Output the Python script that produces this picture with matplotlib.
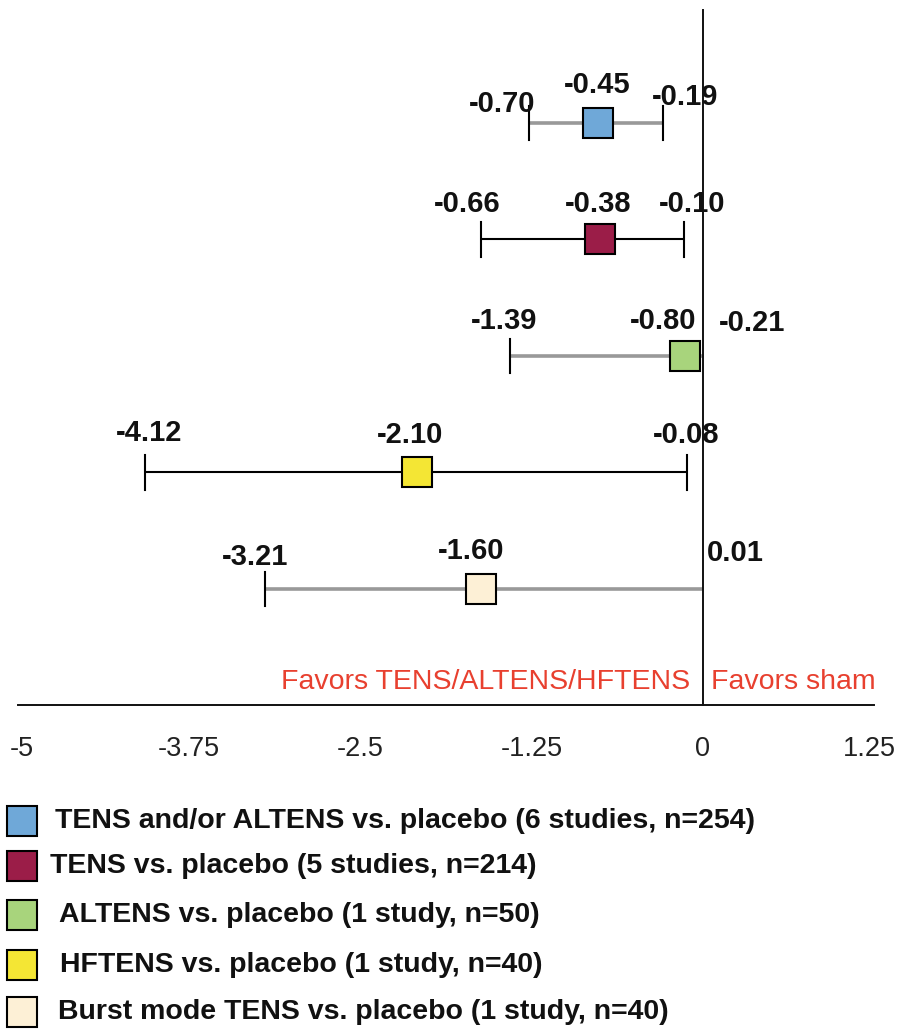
import matplotlib.pyplot as plt
import matplotlib.transforms as mtransforms

# forest plot data (positions as drawn in the figure)
rows = [0, 1, 2, 3, 4]
est = [-0.77, -0.75, -0.13, -2.09, -1.62]
lo = [-1.27, -1.62, -1.41, -4.07, -3.20]
hi = [-0.29, -0.14, 0.0, -0.12, 0.0]
lo_text = ['-0.70', '-0.66', '-1.39', '-4.12', '-3.21']
est_text = ['-0.45', '-0.38', '-0.80', '-2.10', '-1.60']
hi_text = ['-0.19', '-0.10', '-0.21', '-0.08', '0.01']
colors = ['#6fa8d8', '#9b1d48', '#a8d47c', '#f4e634', '#fdf0d6']
legend_labels = ['TENS and/or ALTENS vs. placebo (6 studies, n=254)',
                 'TENS vs. placebo (5 studies, n=214)',
                 'ALTENS vs. placebo (1 study, n=50)',
                 'HFTENS vs. placebo (1 study, n=40)',
                 'Burst mode TENS vs. placebo (1 study, n=40)']
xticks = [-5, -3.75, -2.5, -1.25, 0, 1.25]
xtick_labels = ['-5', '-3.75', '-2.5', '-1.25', '0', '1.25']

# styling
line_col = ['#999999', 'black', '#999999', 'black', '#999999']
line_w = [2.6, 1.5, 2.6, 1.5, 2.6]
right_cap = [True, True, False, True, False]
# label offsets in pixels (dx, dy)
lo_off = [(-27, 19), (-14, 35), (-6, 35), (4, 39), (-10, 32)]
est_off = [(0, 38), (-2, 35), (-22, 35), (-7, 37), (-10, 38)]
hi_off = [(22, 26), (8, 35), (49, 33), (0, 37), (32, 36)]

plt.rcParams['font.family'] = ['Liberation Sans', 'DejaVu Sans']

W, H = 899, 1029
fig = plt.figure(figsize=(W / 100, H / 100), dpi=100)
ax = fig.add_axes([0, 0, 1, 1])

x0, sx = 703, 137.0     # pixel of x=0, pixels per unit
y0, sy = 123, 116.5     # pixel of row 0, pixels per row
ax.set_xlim((0 - x0) / sx, (W - x0) / sx)
ax.set_ylim((H - y0) / sy, (0 - y0) / sy)


def px(p):
    return (p - x0) / sx


def py(p):
    return (p - y0) / sy


cap = 0.15
for i, r in enumerate(rows):
    ax.plot([lo[i], hi[i]], [r, r], color=line_col[i], lw=line_w[i],
            solid_capstyle='butt', zorder=2)
    ax.plot([lo[i], lo[i]], [r - cap, r + cap], color='black', lw=1.5, zorder=3)
    if right_cap[i]:
        ax.plot([hi[i], hi[i]], [r - cap, r + cap], color='black', lw=1.5, zorder=3)
    ax.plot(est[i], r, marker='s', ms=21.5, mfc=colors[i], mec='black',
            mew=1.5, zorder=5)
    for val, txt, off in [(lo[i], lo_text[i], lo_off[i]),
                          (est[i], est_text[i], est_off[i]),
                          (hi[i], hi_text[i], hi_off[i])]:
        ax.annotate(txt, (val, r), xytext=off, textcoords='offset pixels',
                    ha='center', va='center', fontsize=21, fontweight='bold',
                    color='#111111')

# axes lines
for s in ['top', 'right']:
    ax.spines[s].set_visible(False)
ax.spines['left'].set_position(('data', 0))
ax.spines['left'].set_bounds(py(10), py(705))
ax.spines['bottom'].set_position(('data', py(705)))
ax.spines['bottom'].set_bounds(-5, 1.25)
for s in ['left', 'bottom']:
    ax.spines[s].set_linewidth(1.4)
    ax.spines[s].set_color('#111111')
ax.set_yticks([])
ax.set_xticks(xticks)
ax.set_xticklabels(xtick_labels, fontsize=19.5, color='#222222')
ax.tick_params(axis='x', length=0, pad=22)
# keep the outer tick labels inside the picture
edge_shift = {0: 4, len(xticks) - 1: -5}
for k, lbl in enumerate(ax.get_xticklabels()):
    if k in edge_shift:
        lbl.set_transform(lbl.get_transform() + mtransforms.ScaledTranslation(
            edge_shift[k] / 100, 0, fig.dpi_scale_trans))
ax.patch.set_visible(False)

ax.text(px(690), py(682), 'Favors TENS/ALTENS/HFTENS', ha='right', va='center',
        fontsize=20.5, color='#e8402f')
ax.text(px(711), py(682), 'Favors sham', ha='left', va='center',
        fontsize=20.5, color='#e8402f')

# legend
leg_y = [821, 866, 915, 965, 1012]
leg_tx = [55, 50, 59, 60, 58]
for i, lab in enumerate(legend_labels):
    ax.plot(px(22), py(leg_y[i]), marker='s', ms=21, mfc=colors[i],
            mec='black', mew=1.5, clip_on=False)
    ax.text(px(leg_tx[i]), py(leg_y[i]), lab, ha='left', va='center',
            fontsize=20.5, fontweight='bold', color='#111111')

fig.savefig('out.png', dpi=100)
